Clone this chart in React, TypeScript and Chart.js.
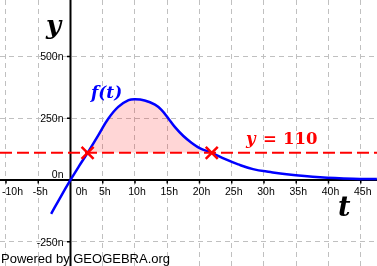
import React, { useEffect, useRef } from "react";
import { Chart, registerables } from "chart.js";

Chart.register(...registerables);

// ---- data ----
const tValues = [-3, -1.5, 0, 1.3, 2.65, 4.3, 5.85, 7.4, 9, 10, 11.5, 13.1, 14.1, 15.15, 16.2, 17.5, 18.8, 20.1, 21.9, 24, 26, 28.3, 31, 33.5, 38.7, 43.8, 47.5];
const fValues = [-137, -67, 0, 55, 110, 181, 248, 296, 323, 327, 322, 305, 284, 250, 214, 178, 150, 128, 110, 84, 63, 44, 32, 23, 11, 5, 4];
const thresholdValue = 110;
const intersectionT = [2.65, 21.9];
const xTickValues = [-10, -5, 0, 5, 10, 15, 20, 25, 30, 35, 40, 45];
const yTickValues = [-250, 0, 250, 500];
const xUnit = "h";
const yUnit = "n";
const xMin = -10.93;
const xMax = 47.52;
const yMin = -348.5;
const yMax = 729;

const W = 377;
const H = 266;

const overlayPlugin = {
  id: "ggbOverlay",
  beforeDatasetsDraw(chart: any) {
    const ctx = chart.ctx;
    const xs = chart.scales.x;
    const ys = chart.scales.y;
    const x0 = xs.getPixelForValue(0);
    const y0 = ys.getPixelForValue(0);
    ctx.save();
    ctx.strokeStyle = "#000";
    ctx.lineWidth = 2;
    ctx.setLineDash([]);
    ctx.beginPath();
    ctx.moveTo(0, y0);
    ctx.lineTo(W, y0);
    ctx.moveTo(x0, 0);
    ctx.lineTo(x0, H);
    ctx.stroke();
    // tick marks
    ctx.lineWidth = 1.5;
    ctx.beginPath();
    xTickValues.forEach((t) => {
      if (t === 0) return;
      const px = xs.getPixelForValue(t);
      ctx.moveTo(px, y0);
      ctx.lineTo(px, y0 + 3.5);
    });
    yTickValues.forEach((v) => {
      if (v === 0) return;
      const py = ys.getPixelForValue(v);
      ctx.moveTo(x0 - 3.5, py);
      ctx.lineTo(x0, py);
    });
    ctx.stroke();
    // tick labels
    ctx.fillStyle = "#000";
    ctx.font = '10.5px "Liberation Sans", Arial, sans-serif';
    ctx.textBaseline = "middle";
    ctx.textAlign = "left";
    xTickValues.forEach((t) => {
      const label = `${t}${xUnit}`;
      const w = ctx.measureText(label).width;
      let cx = xs.getPixelForValue(t) + (t === 0 ? 11 : 2);
      if (cx - w / 2 < 2) cx = 2 + w / 2;
      ctx.fillText(label, cx - w / 2, y0 + 12.5);
    });
    ctx.textAlign = "right";
    yTickValues.forEach((v) => {
      const label = `${v}${yUnit}`;
      const py = v === 0 ? y0 - 4.5 : ys.getPixelForValue(v) + (v < 0 ? 1.5 : 0.5);
      ctx.fillText(label, x0 - 7, py);
    });
    ctx.restore();
  },
  afterDraw(chart: any) {
    const ctx = chart.ctx;
    ctx.save();
    ctx.textBaseline = "alphabetic";
    ctx.textAlign = "left";
    // axis names
    ctx.fillStyle = "#000";
    ctx.font = 'bold italic 26px "DejaVu Serif", serif';
    ctx.fillText("y", 46, 34);
    ctx.font = 'bold italic 27px "DejaVu Serif", serif';
    ctx.fillText("t", 338, 216);
    // function label
    ctx.fillStyle = "#0000ff";
    ctx.font = 'bold italic 17px "DejaVu Serif", serif';
    ctx.fillText("f(t)", 91, 98);
    // threshold label
    ctx.fillStyle = "#ff0000";
    ctx.font = 'bold italic 16.5px "DejaVu Serif", serif';
    ctx.fillText("y", 246, 143.5);
    ctx.font = 'bold 16.5px "DejaVu Serif", serif';
    ctx.fillText("=", 263, 143.5);
    ctx.fillText(String(thresholdValue), 283, 143.5);
    // footer
    ctx.fillStyle = "#000";
    ctx.font = '13px "Liberation Sans", Arial, sans-serif';
    ctx.fillText("Powered by GEOGEBRA.org", 1, 263);
    ctx.restore();
  },
};

export default function App() {
  const ref = useRef<HTMLCanvasElement | null>(null);
  useEffect(() => {
    document.body.style.margin = "0";
    const canvas = ref.current;
    if (!canvas) return;
    const gridCommon = {
      color: "#c0c0c0",
      lineWidth: 1,
      drawTicks: false,
      tickLength: 0,
    };
    const chart = new Chart(canvas, {
      type: "line",
      data: {
        datasets: [
          {
            label: "crosses",
            data: intersectionT.map((t) => ({ x: t, y: thresholdValue })),
            showLine: false,
            pointStyle: "crossRot",
            pointRadius: 8.5,
            pointBorderWidth: 2.5,
            pointBorderColor: "#ff0000",
            borderColor: "#ff0000",
            order: 0,
          } as any,
          {
            label: "threshold",
            data: [
              { x: xMin, y: thresholdValue },
              { x: xMax, y: thresholdValue },
            ],
            borderColor: "#ff0000",
            borderWidth: 2,
            borderDash: [12, 5],
            pointRadius: 0,
            fill: false,
            order: 1,
          },
          {
            label: "f(t)",
            data: tValues.map((t, i) => ({ x: t, y: fValues[i] })),
            borderColor: "#0000ff",
            borderWidth: 2.5,
            pointRadius: 0,
            tension: 0.4,
            fill: {
              target: { value: thresholdValue },
              above: "rgba(255,0,0,0.16)",
              below: "rgba(0,0,0,0)",
            },
            order: 2,
          } as any,
        ],
      },
      options: {
        responsive: false,
        maintainAspectRatio: false,
        animation: false,
        events: [],
        layout: { padding: 0, autoPadding: false },
        plugins: {
          legend: { display: false },
          tooltip: { enabled: false },
        },
        scales: {
          x: {
            type: "linear",
            min: xMin,
            max: xMax,
            ticks: { display: false, stepSize: 5, includeBounds: false },
            grid: gridCommon,
            border: { display: false, dash: [5, 4] },
          },
          y: {
            type: "linear",
            min: yMin,
            max: yMax,
            ticks: { display: false, stepSize: 250, includeBounds: false },
            grid: gridCommon,
            border: { display: false, dash: [5, 4] },
          },
        },
      } as any,
      plugins: [overlayPlugin],
    });
    return () => chart.destroy();
  }, []);
  return (
    <canvas
      ref={ref}
      width={W}
      height={H}
      style={{ display: "block", width: W, height: H }}
    />
  );
}
